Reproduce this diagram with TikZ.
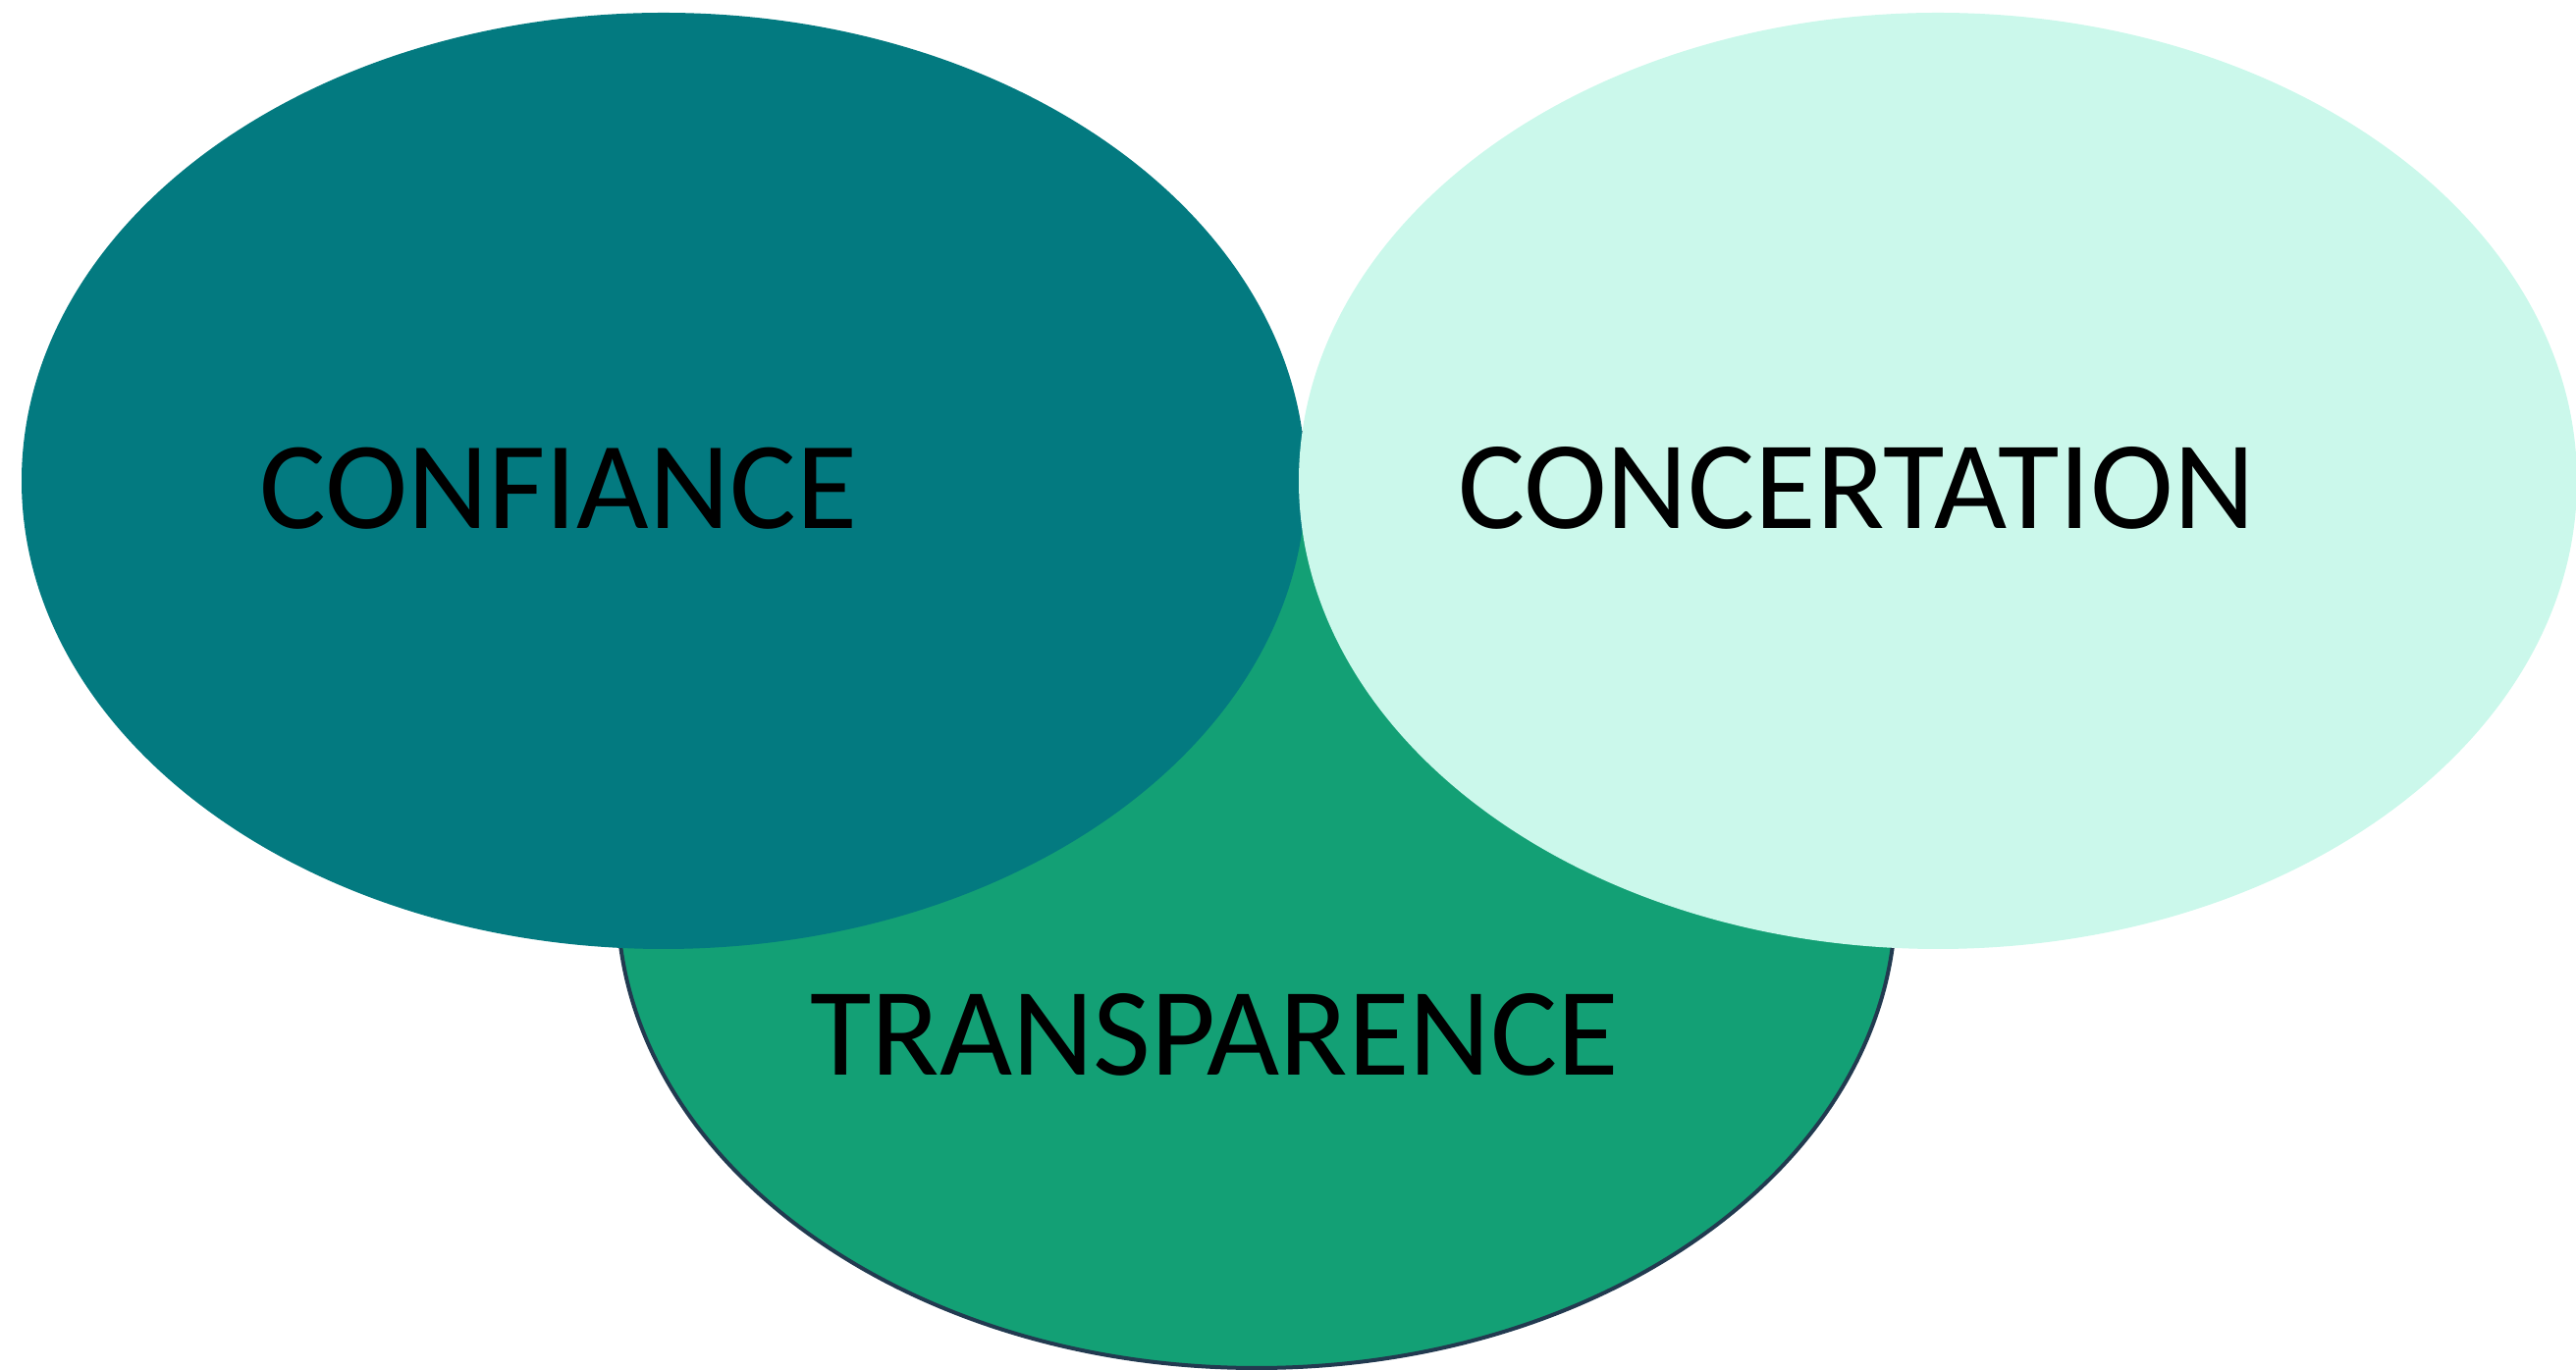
\documentclass[tikz,border=0pt]{standalone}
\usepackage{fontspec}
\setmainfont{Carlito}
\usepackage{xcolor}
\usepackage{tikz}

\definecolor{confiancecol}{HTML}{037A80}
\definecolor{concertcol}{HTML}{CBF8EB}
\definecolor{transpcol}{HTML}{13A075}
\definecolor{bordcol}{HTML}{223A50}

\begin{document}
\begin{tikzpicture}[x=1pt,y=1pt]
\useasboundingbox (0,0) rectangle (2624,1396);

\filldraw[fill=transpcol, draw=bordcol, line width=4pt] (1280,479) ellipse (651 and 477);
\fill[color=confiancecol] (676,906) ellipse (654 and 477);
\fill[color=concertcol] (1974,906) ellipse (651 and 477);

\node[anchor=base, inner sep=0pt, font=\fontsize{127}{150}\selectfont] (confiance) at (569,857) {CONFIANCE};
\node[anchor=base, inner sep=0pt, font=\fontsize{128}{150}\selectfont] (concertation) at (1891,857) {CONCERTATION};
\node[anchor=base, inner sep=0pt, font=\fontsize{128}{150}\selectfont] (transparence) at (1237,300) {TRANSPARENCE};
\end{tikzpicture}
\end{document}
